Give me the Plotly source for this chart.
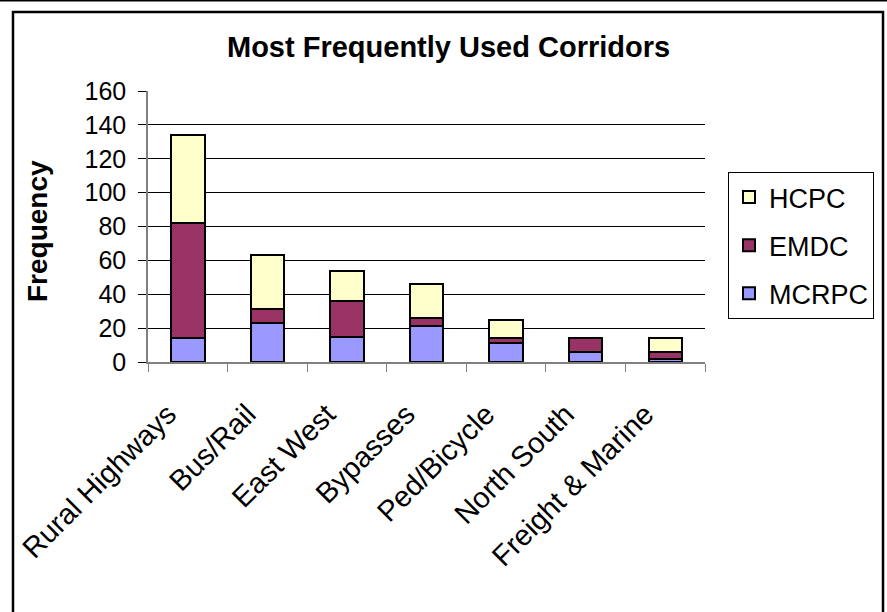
import plotly.graph_objects as go

categories = ["Rural Highways", "Bus/Rail", "East West", "Bypasses", "Ped/Bicycle", "North South", "Freight & Marine"]
mcrpc = [14, 23, 15, 21, 11, 6, 2]
emdc = [68, 8, 21, 5, 3, 8, 4]
hcpc = [52, 32, 18, 20, 11, 0, 8]
y_ticks = [0, 20, 40, 60, 80, 100, 120, 140, 160]

W, H = 887, 612
L, R, T, B = 148, 705, 91, 362

fig = go.Figure()
for rank, (name, vals, col) in enumerate([("MCRPC", mcrpc, "#9999FF"), ("EMDC", emdc, "#993366"), ("HCPC", hcpc, "#FFFFCC")]):
    fig.add_trace(go.Bar(x=categories, y=vals, name=name, legendgroup=name, legendrank=3 - rank,
                         marker=dict(color=col, line=dict(color="black", width=2))))

font = "Liberation Sans, Arial, sans-serif"
def px2x(p):
    return (p - L) / (R - L)
def px2y(p):
    return (B - p) / (B - T)

fig.update_layout(
    width=W, height=H,
    margin=dict(l=L, r=W - R, t=T, b=H - B, pad=0),
    barmode="stack", bargap=0.58,
    paper_bgcolor="white", plot_bgcolor="white",
    font=dict(family=font, color="black", size=25),
    legend=dict(traceorder="grouped", x=px2x(728), xanchor="left", y=px2y(172), yanchor="top",
                bordercolor="black", borderwidth=1, bgcolor="white", font=dict(size=27),
                itemwidth=30, tracegroupgap=10),
    showlegend=True,
    annotations=[
        dict(text="<b>Most Frequently Used Corridors</b>", xref="paper", yref="paper",
             x=px2x(448), y=px2y(47), xanchor="center", yanchor="middle", showarrow=False, font=dict(size=29)),
        dict(text="<b>Frequency</b>", xref="paper", yref="paper", textangle=-90,
             x=px2x(37), y=px2y(231), xanchor="center", yanchor="middle", showarrow=False, font=dict(size=28)),
    ],
    shapes=[
        dict(type="rect", xref="paper", yref="paper", x0=px2x(13), x1=px2x(883), y0=px2y(700), y1=px2y(12),
             line=dict(color="black", width=2.5), fillcolor="rgba(0,0,0,0)", layer="below"),
        dict(type="line", xref="paper", yref="paper", x0=px2x(0), x1=px2x(887), y0=px2y(0.8), y1=px2y(0.8),
             line=dict(color="black", width=1.5)),
    ],
)
fig.update_yaxes(range=[0, 160], tickvals=y_ticks, showgrid=True, gridcolor="black", gridwidth=1,
                 ticks="outside", ticklen=8, tickcolor="black", showline=True, linecolor="#808080", linewidth=1.5,
                 tickfont=dict(size=25), ticklabelstandoff=7)
fig.update_xaxes(tickangle=-45, ticks="outside", ticklen=8, tickcolor="#808080", tickson="boundaries",
                 showline=True, linecolor="#808080", linewidth=1.5, tickfont=dict(size=29),
                 ticklabelstandoff=22, ticklabelshift=-20)

fig.write_html("out.html", config={"displayModeBar": False},
               post_script="document.body.style.margin='0';document.body.style.overflow='hidden';")
